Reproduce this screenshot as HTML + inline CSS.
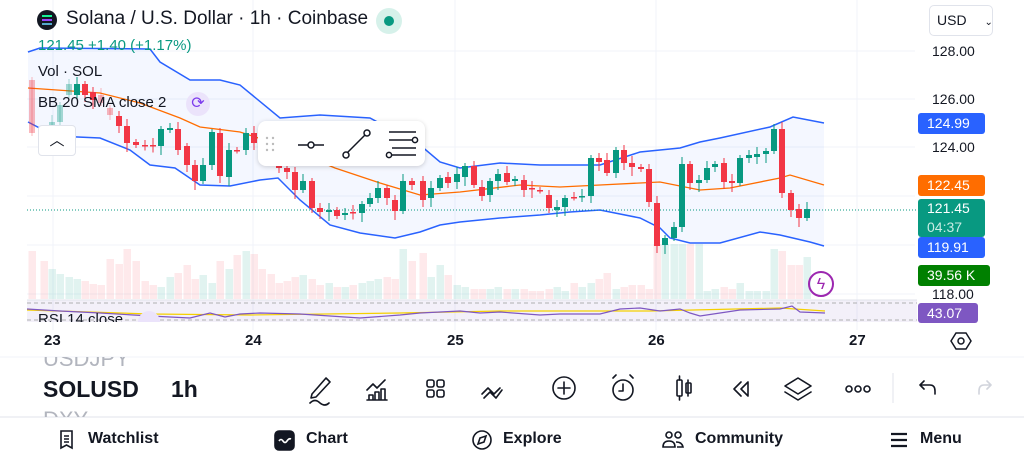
<!DOCTYPE html>
<html><head><meta charset="utf-8"><style>
body{margin:0;width:1024px;height:461px;overflow:hidden;background:#fff;font-family:"Liberation Sans",sans-serif;color:#131722;position:relative}
.a{position:absolute;white-space:nowrap}
.lbl{position:absolute;left:918px;width:67px;height:21px;border-radius:3px;color:#fff;font-size:14px;line-height:21px;padding-left:9px;box-sizing:border-box}
.ax{position:absolute;left:932px;font-size:14px;color:#131722}
.nav{position:absolute;top:430px;font-size:16px;font-weight:bold}
</style></head><body>
<svg id="s" width="1024" height="461" style="position:absolute;left:0;top:0">
<g stroke="#f0f3fa" stroke-width="1">
<line x1="27" x2="915" y1="51" y2="51"/><line x1="27" x2="915" y1="99" y2="99"/><line x1="27" x2="915" y1="147" y2="147"/><line x1="27" x2="915" y1="196" y2="196"/><line x1="27" x2="915" y1="245" y2="245"/><line x1="27" x2="915" y1="294" y2="294"/>
<line x1="53" x2="53" y1="0" y2="330"/><line x1="253" x2="253" y1="0" y2="330"/><line x1="455" x2="455" y1="0" y2="330"/><line x1="656" x2="656" y1="0" y2="330"/><line x1="857" x2="857" y1="0" y2="330"/>
</g>
<g id="vol"></g>
<polygon id="fill" fill="#2962ff" fill-opacity="0.05"/>
<polyline id="up" fill="none" stroke="#2962ff" stroke-width="1.5"/>
<polyline id="lo" fill="none" stroke="#2962ff" stroke-width="1.5"/>
<polyline id="mid" fill="none" stroke="#ff6d00" stroke-width="1.3"/>
<line x1="27" x2="918" y1="210" y2="210" stroke="#089981" stroke-dasharray="1 2"/>
<g id="c"></g>
<rect x="27" y="300" width="890" height="22" fill="#7e57c2" fill-opacity="0.09"/>
<line x1="27" x2="917" y1="303" y2="303" stroke="#999" stroke-dasharray="4 3" stroke-width="0.7"/>
<line x1="27" x2="917" y1="320" y2="320" stroke="#999" stroke-dasharray="4 3" stroke-width="0.7"/>
<line x1="27" x2="917" y1="300" y2="300" stroke="#e0e3eb"/>
<polyline fill="none" stroke="#f5d000" stroke-width="1.2" points="27,310 150,314 250,315 400,313 500,311 650,311 780,308 825,311"/>
<polyline fill="none" stroke="#7e57c2" stroke-width="1.2" points="27,309 60,311 100,313 150,316 190,318 210,313 225,317 240,314 260,313 300,314 330,316 360,318 400,315 420,313 460,311 480,313 500,312 540,315 560,314 600,314 620,309 640,308 660,311 680,309 690,313 700,316 720,313 740,310 780,309 792,306 800,312 825,313"/>
<line x1="0" x2="1024" y1="357" y2="357" stroke="#f0f3fa"/>
<line x1="0" x2="1024" y1="417" y2="417" stroke="#e0e3eb"/>
<line x1="893" x2="893" y1="373" y2="403" stroke="#e0e3eb"/>
</svg>

<div class="a" style="left:37px;top:10px;width:20px;height:20px;border-radius:50%;background:#131722"></div>
<div class="a" style="left:42px;top:15px;width:10px;height:2px;background:#14f195;box-shadow:0 4px 0 #9945ff,0 8px 0 #5ac;"></div>
<div class="a" style="left:66px;top:8px;font-size:19px;color:#131722">Solana / U.S. Dollar · 1h · Coinbase</div>
<div class="a" style="left:376px;top:8px;width:26px;height:26px;border-radius:50%;background:#d6f1ea"></div>
<div class="a" style="left:384px;top:16px;width:10px;height:10px;border-radius:50%;background:#089981"></div>
<div class="a" style="left:38px;top:37px;font-size:15px;color:#089981">121.45 +1.40 (+1.17%)</div>
<div class="a" style="left:38px;top:63px;font-size:15px">Vol · SOL</div>
<div class="a" style="left:38px;top:94px;font-size:15px">BB 20 SMA close 2</div>
<div class="a" style="left:186px;top:92px;width:24px;height:24px;border-radius:50%;background:#ebe3fb;color:#7c3aed;font-size:16px;text-align:center;line-height:24px">⟳</div>
<div class="a" style="left:38px;top:125px;width:36px;height:29px;border:1px solid #e0e3eb;border-radius:4px;background:#fff;text-align:center;font-size:15px;line-height:30px">︿</div>
<div class="a" style="left:38px;top:311px;font-size:15px;color:#131722;height:11px;overflow:hidden">RSI 14 close</div>
<div class="a" style="left:138px;top:311px;width:22px;height:11px;overflow:hidden;"><div style="width:22px;height:22px;border-radius:50%;background:#ebe3fb"></div></div>

<div class="a" style="left:258px;top:121px;width:167px;height:45px;background:#fff;border-radius:8px;box-shadow:0 1px 5px rgba(0,0,0,.18)"></div>
<svg class="a" style="left:258px;top:121px" width="167" height="45" fill="none" stroke="#131722" stroke-width="1.5">
<g fill="#bbb" stroke="none"><circle cx="9" cy="17" r="1.2"/><circle cx="15" cy="17" r="1.2"/><circle cx="9" cy="23" r="1.2"/><circle cx="15" cy="23" r="1.2"/><circle cx="9" cy="29" r="1.2"/><circle cx="15" cy="29" r="1.2"/></g>
<line x1="40" x2="66" y1="24" y2="24"/><circle cx="53" cy="24" r="3" fill="#fff"/>
<line x1="88" x2="108" y1="33" y2="13"/><circle cx="88" cy="34" r="3" fill="#fff"/><circle cx="109" cy="12" r="3" fill="#fff"/>
<line x1="131" x2="158" y1="11" y2="11"/><line x1="131" x2="155" y1="19" y2="19"/><line x1="134" x2="158" y1="27" y2="27"/><line x1="134" x2="158" y1="34" y2="34"/><circle cx="157" cy="19" r="2.6" fill="#fff"/><circle cx="131" cy="34" r="2.6" fill="#fff"/>
</svg>

<div class="a" style="left:929px;top:5px;width:62px;height:29px;border:1px solid #e0e3eb;border-radius:5px;font-size:14px;line-height:29px;text-indent:7px">USD <span style="font-size:10px;margin-left:14px">⌄</span></div>
<div class="ax" style="top:43px">128.00</div>
<div class="ax" style="top:91px">126.00</div>
<div class="ax" style="top:139px">124.00</div>
<div class="ax" style="top:286px">118.00</div>
<div class="lbl" style="top:113px;background:#2962ff">124.99</div>
<div class="lbl" style="top:175px;background:#ff6d00">122.45</div>
<div class="lbl" style="top:199px;height:38px;background:#089981;line-height:19px">121.45<br><span style="color:#c9ece4">04:37</span></div>
<div class="lbl" style="top:237px;background:#2962ff">119.91</div>
<div class="lbl" style="top:265px;width:72px;background:#008000">39.56 K</div>
<div class="lbl" style="top:303px;width:60px;height:20px;background:#7e57c2">43.07</div>
<div class="a" style="left:808px;top:271px;width:26px;height:26px;border-radius:50%;border:2px solid #9c27b0;color:#9c27b0;text-align:center;line-height:24px;font-size:16px;box-sizing:border-box">ϟ</div>

<div class="a" style="left:44px;top:332px;font-size:15px;font-weight:bold">23</div>
<div class="a" style="left:245px;top:332px;font-size:15px;font-weight:bold">24</div>
<div class="a" style="left:447px;top:332px;font-size:15px;font-weight:bold">25</div>
<div class="a" style="left:648px;top:332px;font-size:15px;font-weight:bold">26</div>
<div class="a" style="left:849px;top:332px;font-size:15px;font-weight:bold">27</div>
<svg class="a" style="left:950px;top:330px" width="22" height="22" fill="none" stroke="#131722" stroke-width="1.5"><polygon points="6,3 16,3 21,11 16,19 6,19 1,11"/><circle cx="11" cy="11" r="3"/></svg>

<div class="a" style="left:43px;top:357px;height:10px;overflow:hidden;font-size:22px;color:#b2b5be"><div style="margin-top:-11px">USDJPY<span style="position:absolute;left:128px">15m</span></div></div>
<div class="a" style="left:43px;top:376px;font-size:23px;font-weight:bold">SOLUSD</div>
<div class="a" style="left:171px;top:376px;font-size:23px;font-weight:bold">1h</div>
<div class="a" style="left:43px;top:407px;height:10px;overflow:hidden;font-size:22px;color:#b2b5be">DXY<span style="position:absolute;left:128px">4h</span></div>

<svg class="a" style="left:0;top:370px" width="1024" height="40" fill="none" stroke="#131722" stroke-width="1.6" stroke-linecap="round" stroke-linejoin="round">
<path d="M312 24 L326 8 L330 12 L316 27 L311 28 Z M310 33 q5 -5 10 0 q5 4 9 0"/>
<path d="M367 30 h20 M369 30 v-5 h4 v5 M375 30 v-8 h4 v8 M381 30 v-11 h4 v11 M367 20 l6 -6 4 4 8 -8"/>
<rect x="427" y="10" width="7" height="7" rx="2"/><rect x="437" y="10" width="7" height="7" rx="2"/><rect x="427" y="20" width="7" height="7" rx="2"/><rect x="437" y="20" width="7" height="7" rx="2"/>
<path d="M482 24 l6 -6 6 6 6 -6 M484 28 l6 -6 6 6 6 -8"/>
<circle cx="564" cy="18" r="11"/><path d="M558 18 h12 M564 12 v12"/>
<circle cx="623" cy="20" r="10"/><path d="M623 14 v7 h-4 M613 8 l3 -3 M633 8 l-3 -3"/>
<rect x="677" y="10" width="5" height="16" rx="1"/><path d="M679.5 6 v4 M679.5 26 v4 M688 14 v12 M688 10 v2"/><rect x="686" y="13" width="5" height="10" rx="1"/>
<path d="M741 12 l-7 7 7 7 M748 12 l-7 7 7 7 M748 12 v14"/>
<path d="M798 8 l13 8 -13 8 -13 -8 z M785 22 l13 8 13 -8"/>
<circle cx="849" cy="19" r="3"/><circle cx="858" cy="19" r="3"/><circle cx="867" cy="19" r="3"/>
<path d="M921 15 h9 q5 0 5 6 v3 M924 11 l-4 4 4 4"/>
<path d="M990 15 h-6 q-5 0 -5 6 v3 M987 11 l4 4 -4 4" stroke="#d1d4dc"/>
</svg>

<svg class="a" style="left:0;top:428px" width="1024" height="24" fill="none" stroke="#131722" stroke-width="1.6">
<path d="M61 3 h11 v17 l-5.5 -3 -5.5 3 z M64 8 h5 M64 11 h5 M64 14 h5"/>
<rect x="275" y="3" width="19" height="19" rx="4" fill="#131722"/><path d="M279 13 q2 -3 4 0 t4 0 t4 -2" stroke="#fff"/>
<circle cx="482" cy="12" r="9"/><path d="M486 8 l-2 6 -6 2 2 -6 z"/>
<circle cx="669" cy="7" r="3"/><circle cx="678" cy="7" r="3"/><path d="M663 19 q0 -6 6 -6 q6 0 6 6 z M676 14 q6 0 7 5 h-6"/>
<path d="M891 6 h16 M891 12 h16 M891 18 h16" stroke-width="2.2"/>
</svg>
<div class="nav" style="left:88px">Watchlist</div>
<div class="nav" style="left:306px">Chart</div>
<div class="nav" style="left:503px">Explore</div>
<div class="nav" style="left:695px">Community</div>
<div class="nav" style="left:920px">Menu</div>

<script>
var NS="http://www.w3.org/2000/svg";
function el(p,t,a){var e=document.createElementNS(NS,t);for(var k in a)e.setAttribute(k,a[k]);p.appendChild(e);return e;}
var C=[[32,80,133],[44,134,139],[52,140,122],[60,122,105],[69,95,84],[77,95,84],[85,84,95],[93,92,100],[101,95,103],[110,108,115],[119,116,126],[127,126,143],[136,142,145],[145,145,145.5],[153,145,145.5],[161,146,129],[170,130,128],[178,129,150],[187,146,165],[195,165,181],[203,181,165],[212,165,132],[220,133,176],[229,177,150],[237,150,150.5],[246,150,133],[254,133,143],[262,140,150],[271,150,160],[279,160,168],[287,168,172],[295,172,190],[303,190,181],[312,181,208],[320,208,212],[329,212,210],[337,210,216],[345,215,213],[353,212,212.5],[362,213,204],[370,204,198],[378,198,188],[387,188,198],[395,200,211],[403,211,181],[412,181,185],[423,181,200],[431,198,188],[440,188,178],[448,177,183],[457,182,174],[465,177,166],[474,166,185],[482,187,196],[490,195,181],[498,181,174],[507,173,182],[515,181,179],[524,180,190],[532,188,189],[540,190,190.5],[549,195,208],[557,210,207],[565,207,198],[574,197,197.5],[582,197,196],[591,196,158],[599,158,162],[607,160,173],[616,173,150],[624,150,163],[632,163,167],[641,167,169],[649,169,202],[657,203,246],[665,245,238],[674,238,227],[682,227,164],[690,164,183],[699,183,180],[707,180,168],[715,167,164],[724,163,182],[732,181,183],[740,183,158],[749,158,155],[757,157,154],[766,154,151],[774,151,129],[782,129,193],[791,193,210],[799,209,218],[807,218,209]];
var V=[48,38,30,25,22,20,18,15,14,40,35,50,38,18,14,12,22,26,34,20,24,16,38,30,44,48,45,30,25,16,18,22,24,20,14,16,12,12,14,16,18,20,22,20,50,38,46,22,34,24,14,12,10,10,10,12,10,10,10,8,8,10,12,8,16,12,16,20,26,10,12,14,14,10,12,22,20,12,10,8,8,10,12,10,16,8,8,8,30,28,14,14,22,16,14,10,22,22,28,22,16,8,10,16,12,10,14,22,28,38,42,30];
var cg=document.getElementById("c"),vg=document.getElementById("vol");
C.forEach(function(c,i){
 var up=c[2]<c[1],col=up?"#089981":"#f23645";
 var fade=c[0]<70||(c[0]>100&&c[0]<115)?0.35:1;
 var t=Math.min(c[1],c[2]),b=Math.max(c[1],c[2]);
 el(cg,"line",{x1:c[0],x2:c[0],y1:t-3-(i%3)*2,y2:b+3+(i%4)*2,stroke:col,"stroke-opacity":fade});
 el(cg,"rect",{x:c[0]-3,y:t,width:6,height:Math.max(1.5,b-t),fill:col,"fill-opacity":fade});
 var h=V[i%V.length]; if(c[0]>650&&c[0]<700)h=55; if(c[0]>770)h=h+20;
 el(vg,"rect",{x:c[0]-3.5,y:299-h,width:7.5,height:h,fill:up?"#089981":"#f23645","fill-opacity":up?0.12:0.11});
});
var U="28,52 40,48 150,49 160,62 190,80 220,80 240,85 280,118 320,115 370,118 420,145 440,162 460,168 500,163 540,165 600,165 640,152 680,148 700,142 720,138 770,127 793,117 824,123";
var L="28,122 55,136 100,138 130,150 150,165 175,168 200,185 230,186 260,180 278,178 300,200 330,225 360,233 395,238 420,232 440,225 460,222 500,218 540,215 570,212 600,210 640,218 660,228 670,238 690,243 720,243 760,232 780,235 810,242 824,246";
var M="28,88 100,93 140,103 180,118 200,127 240,132 280,145 335,168 380,183 420,195 460,192 520,185 560,187 600,185 660,182 700,190 730,188 780,178 790,175 824,185";
document.getElementById("up").setAttribute("points",U);
document.getElementById("lo").setAttribute("points",L);
document.getElementById("mid").setAttribute("points",M);
document.getElementById("fill").setAttribute("points",U+" "+L.split(" ").reverse().join(" "));
</script>
</body></html>
